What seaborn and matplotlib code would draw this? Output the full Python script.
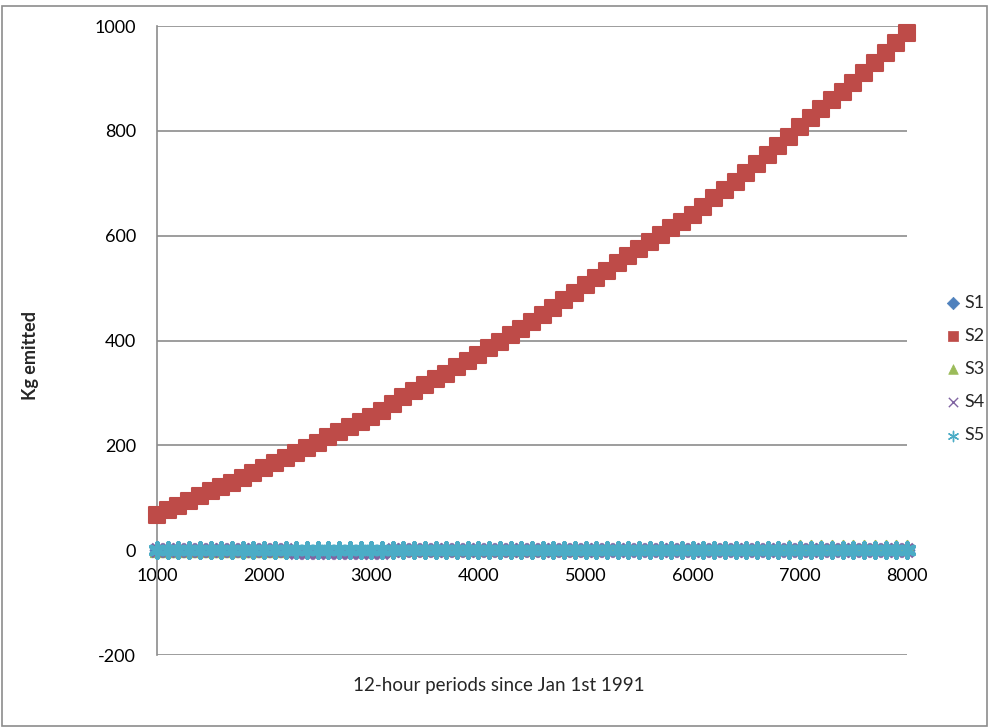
import matplotlib
matplotlib.use("Agg")
import matplotlib.pyplot as plt
import seaborn as sns
from matplotlib.patches import Rectangle

# x positions: 12-hour periods, one reading every 100 periods
periods = list(range(1000, 8001, 100))

s1 = [0, 0, 0, 0, 0, 0, 0, 0, 0, 0,
      0, 0, 0, 0, 0, 0, 0, 0, 0, 0,
      0, 0, 0, 0, 0, 0, 0, 0, 0, 0,
      0, 0, 0, 0, 0, 0, 0, 0, 0, 0,
      0, 0, 0, 0, 0, 0, 0, 0, 0, 0,
      0, 0, 0, 0, 0, 0, 0, 0, 0, 0,
      0, 0, 0, 0, 0, 0, 0, 0, 0, 0, 0]

s2 = [67, 76, 85, 94, 103, 112, 120, 129, 138, 148,
      157, 166, 175, 185, 195, 205, 215, 225, 235, 245,
      255, 266, 279, 292, 304, 315, 326, 337, 349, 360,
      372, 385, 398, 410, 422, 435, 449, 463, 477, 491,
      505, 519, 533, 547, 561, 575, 588, 601, 614, 627,
      640, 655, 671, 687, 703, 720, 737, 754, 771, 789,
      808, 825, 842, 858, 875, 892, 911, 930, 949, 968, 987]

s3 = [0, 0, 0, 0, 0, 0, 0, 0, 0, 0,
      0, 0, 0, 0, 0, 0, 0, 0, 0, 0,
      0, 0, 2, 2, 2, 2, 2, 2, 2, 2,
      2, 2, 2, 2, 2, 2, 2, 2, 2, 2,
      2, 2, 4, 4, 4, 4, 4, 4, 4, 4,
      4, 4, 4, 4, 4, 4, 4, 4, 4, 6,
      6, 6, 6, 6, 6, 6, 6, 6, 6, 6, 6]

s4 = [0, 0, 0, 0, 0, 0, 0, 0, 0, 0,
      0, 0, 0, -3, -3, -3, -3, -3, -3, -3,
      -3, -3, 0, 0, 0, 0, 0, 0, 0, 0,
      0, 0, 0, 0, 0, 0, 0, 0, 0, 0,
      0, 0, 0, 0, 0, 0, 0, 0, 0, 0,
      0, 0, 0, 0, 0, 0, 0, 0, 0, 0,
      0, 0, 0, 0, 0, 0, 0, 0, 0, 0, 0]

s5 = [0, 0, 0, 0, 0, 0, 0, 0, 0, 0,
      0, 0, 0, 0, 0, 0, 0, 0, 0, 0,
      0, 0, 0, 0, 0, 0, 0, 0, 0, 0,
      0, 0, 0, 0, 0, 0, 0, 0, 0, 0,
      0, 0, 0, 0, 0, 0, 0, 0, 0, 0,
      0, 0, 0, 0, 0, 0, 0, 0, 0, 0,
      0, 0, 0, 0, 0, 0, 0, 0, 0, 0, 0]

x_ticks = [1000, 2000, 3000, 4000, 5000, 6000, 7000, 8000]
y_ticks = [-200, 0, 200, 400, 600, 800, 1000]

sns.set_style("white")
plt.rcParams["font.family"] = ["Lato", "DejaVu Sans"]
plt.rcParams["axes.unicode_minus"] = False

grey = "#8c8c8c"
fig = plt.figure(figsize=(9.88, 7.27), dpi=100)
ax = fig.add_axes([0.1589, 0.0990, 0.7591, 0.8652])

series = [
    ("S1", s1, "#4F81BD", "D", 50),
    ("S2", s2, "#BE4B48", "s", 120),
    ("S3", s3, "#9BBB59", "^", 90),
    ("S4", s4, "#8064A2", "x", 80),
    ("S5", s5, "#4BACC6", (6, 2, 0), 110),
]
for name, vals, col, mk, size in series:
    if mk == "x" or isinstance(mk, tuple):
        sns.scatterplot(x=periods, y=vals, marker=mk, color=col, s=size,
                        linewidth=3.2, label=name, ax=ax, zorder=3, clip_on=False)
    else:
        sns.scatterplot(x=periods, y=vals, marker=mk, color=col, s=size,
                        edgecolor=col, linewidth=1.5, label=name, ax=ax,
                        zorder=3, clip_on=False)

ax.set_xlim(1000, 8000)
ax.set_ylim(-200, 1000)
ax.set_xticks(x_ticks)
ax.set_yticks(y_ticks)
ax.set_xlabel("")
ax.set_ylabel("")

ax.spines["top"].set_visible(False)
ax.spines["right"].set_visible(False)
ax.spines["bottom"].set_position(("data", 0))
for side in ("left", "bottom"):
    ax.spines[side].set_color(grey)
    ax.spines[side].set_linewidth(1.2)

ax.yaxis.grid(True, color=grey, linewidth=1.2)
ax.set_axisbelow(True)
ax.tick_params(axis="y", length=5, width=1.2, color=grey, pad=10,
               labelsize=13, labelcolor="black")
ax.tick_params(axis="x", length=4, width=1.2, color=grey, pad=9,
               labelsize=13, labelcolor="black")

handles, labels = ax.get_legend_handles_labels()
ax.legend_.remove()
leg = fig.legend(handles, labels, loc="center left", bbox_to_anchor=(0.959, 0.4924),
                 frameon=False, fontsize=13, handlelength=0.6,
                 handletextpad=0.35, labelspacing=0.95, borderpad=0, borderaxespad=0)
legend_sizes = [40, 42, 48, 45, 55]
legend_widths = [0.5, 0.5, 0.5, 1.0, 1.0]
for h, sz, lw in zip(leg.legend_handles, legend_sizes, legend_widths):
    h.set_sizes([sz])
    h.set_linewidth(lw)

fig.text(0.031, 1 - 355 / 727, "Kg emitted", rotation=90, fontsize=13,
         fontweight="bold", ha="center", va="center")
fig.text(499 / 988, 1 - 685 / 727, "12-hour periods since Jan 1st 1991",
         fontsize=13.5, ha="center", va="center")

fig.patches.append(Rectangle((1.5 / 988, 1.5 / 727), 985 / 988, 719.5 / 727,
                             transform=fig.transFigure, fill=False,
                             edgecolor=grey, linewidth=1.2))

fig.savefig("out.png", dpi=100)
